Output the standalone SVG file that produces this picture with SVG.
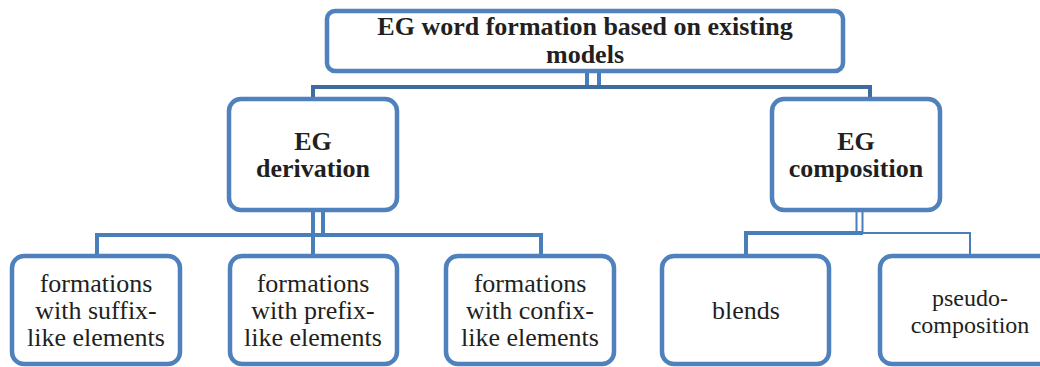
<svg xmlns="http://www.w3.org/2000/svg" width="1040" height="367" viewBox="0 0 1040 367">
<style>
.box{fill:#fff;stroke:#4f81bd;stroke-width:4.5}
.c{fill:none;stroke:#4a7ebb;stroke-width:4}
.ct{fill:none;stroke:#4a7ebb;stroke-width:2}
.h{font-family:"Liberation Serif","Times New Roman",Times,serif;font-weight:bold;font-size:26px;fill:#231f20;text-anchor:middle}
.t{font-family:"Liberation Serif","Times New Roman",Times,serif;font-size:26px;fill:#231f20;text-anchor:middle}
</style>
<rect width="1040" height="367" fill="#fff"/>
<g id="connectors">
<path class="c" d="M587,71V87M599,71V87"/>
<path class="c" style="stroke:#3d6d9f" d="M313,99V87H870V100"/>
<path class="c" d="M313,210V235M323,210V235"/>
<path class="c" d="M97,255V235H541V255M313,235V255"/>
<path class="ct" d="M856.5,210V233M862.5,210V233"/>
<path class="c" d="M746,255V233H863"/>
<path class="ct" d="M862,233H970V255"/>
</g>
<g id="root">
<rect class="box" x="327" y="11" width="516" height="60" rx="8"/>
<text class="h" x="585" y="35">EG word formation based on existing</text>
<text class="h" x="585" y="63">models</text>
</g>
<g id="derivation">
<rect class="box" x="229" y="99" width="168" height="111" rx="12"/>
<text class="h" x="313" y="150">EG</text>
<text class="h" x="313" y="177">derivation</text>
</g>
<g id="composition">
<rect class="box" x="772" y="99" width="168" height="111" rx="12"/>
<text class="h" x="856" y="150">EG</text>
<text class="h" x="856" y="177">composition</text>
</g>
<g id="suffix">
<rect class="box" x="12" y="256" width="168" height="108" rx="12"/>
<text class="t" x="96" y="292">formations</text>
<text class="t" x="96" y="319">with suffix-</text>
<text class="t" x="96" y="346">like elements</text>
</g>
<g id="prefix">
<rect class="box" x="230" y="256" width="167" height="108" rx="12"/>
<text class="t" x="313" y="292">formations</text>
<text class="t" x="313" y="319">with prefix-</text>
<text class="t" x="313" y="346">like elements</text>
</g>
<g id="confix">
<rect class="box" x="446" y="256" width="168" height="108" rx="12"/>
<text class="t" x="530" y="292">formations</text>
<text class="t" x="530" y="319">with confix-</text>
<text class="t" x="530" y="346">like elements</text>
</g>
<g id="blends">
<rect class="box" x="662" y="256" width="167" height="108" rx="12"/>
<text class="t" x="746" y="319">blends</text>
</g>
<g id="pseudo">
<rect class="box" x="880" y="256" width="180" height="108" rx="12"/>
<text class="t" style="font-size:24px" x="970" y="306">pseudo-</text>
<text class="t" style="font-size:24px" x="970" y="333">composition</text>
</g>
</svg>
